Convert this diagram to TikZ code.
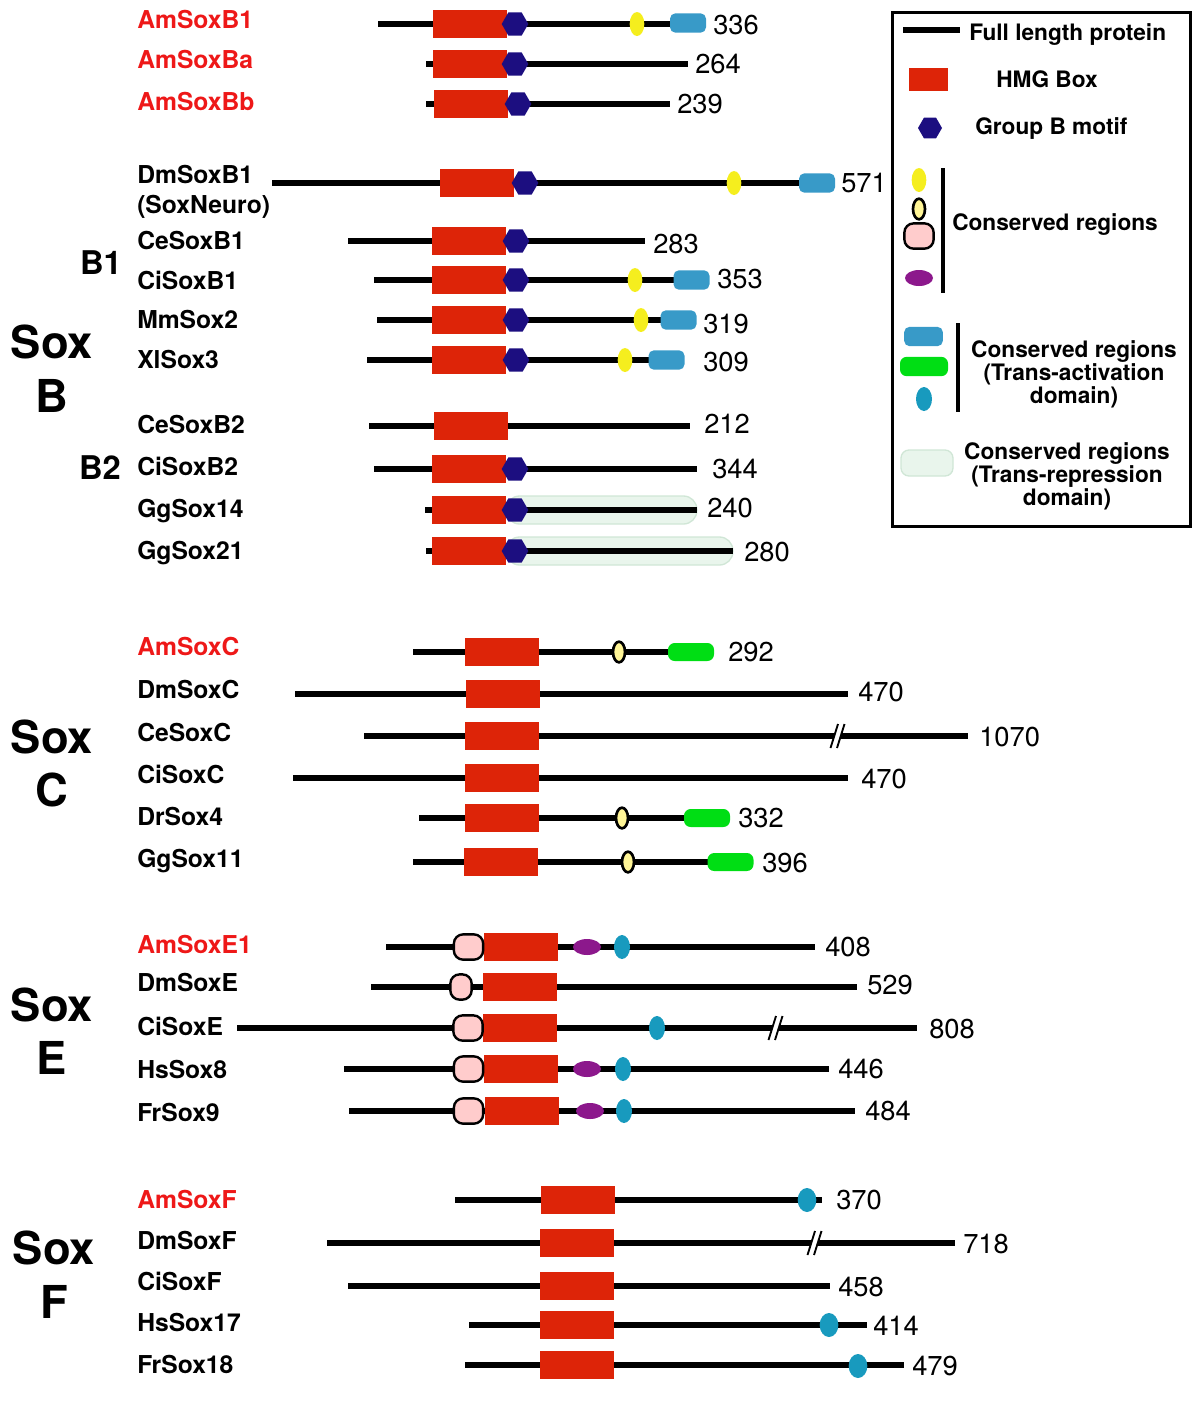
\documentclass[tikz,border=0pt]{standalone}
\usepackage{fontspec}
\setmainfont{TeX Gyre Heros}
\usetikzlibrary{shapes.geometric}
\definecolor{hmgred}{RGB}{221,36,8}
\definecolor{amred}{RGB}{238,24,24}
\definecolor{motifblue}{RGB}{28,14,128}
\definecolor{consyellow}{RGB}{245,238,30}
\definecolor{conspale}{RGB}{255,245,150}
\definecolor{conspink}{RGB}{255,204,204}
\definecolor{conspurple}{RGB}{140,24,140}
\definecolor{tablue}{RGB}{56,154,200}
\definecolor{tagreen}{RGB}{0,222,20}
\definecolor{tateal}{RGB}{24,154,190}
\definecolor{trfill}{RGB}{233,245,236}
\definecolor{trdraw}{RGB}{208,230,214}
\tikzset{
  cut/.pic={
    \fill[white] (-4,4) -- (-1.4,-4) -- (5,-4) -- (2.4,4) -- cycle;
    \draw[line width=1.4pt] (-6.5,12) -- (1,-12) (0,12) -- (7.5,-12);
  }
}
\begin{document}
\begin{tikzpicture}[x=0.75pt,y=-0.75pt,
  protein/.style={line width=4.5pt},
  hmg/.style={rectangle,fill=hmgred,minimum width=55.5pt,minimum height=21pt,inner sep=0pt},
  motif/.style={regular polygon,regular polygon sides=6,fill=motifblue,minimum size=20pt,inner sep=0pt},
  consy/.style={ellipse,fill=consyellow,minimum width=11pt,minimum height=18pt,inner sep=0pt},
  conso/.style={ellipse,fill=conspale,draw,line width=2pt,minimum width=9pt,minimum height=15.5pt,inner sep=0pt},
  consp/.style={rectangle,rounded corners=7pt,fill=conspink,draw,line width=1.8pt,minimum width=22pt,minimum height=19pt,inner sep=0pt},
  consv/.style={ellipse,fill=conspurple,minimum width=21pt,minimum height=12pt,inner sep=0pt},
  tab/.style={rectangle,rounded corners=4pt,fill=tablue,minimum width=27pt,minimum height=14.5pt,inner sep=0pt},
  tag/.style={rectangle,rounded corners=5pt,fill=tagreen,minimum width=34.5pt,minimum height=13.5pt,inner sep=0pt},
  tat/.style={ellipse,fill=tateal,minimum width=12pt,minimum height=18pt,inner sep=0pt},
  trep/.style={rectangle,rounded corners=10pt,fill=trfill,draw=trdraw,line width=1pt,minimum height=21pt,inner sep=0pt},
  protname/.style={anchor=west,inner sep=0pt,text height=13.3pt,text depth=0pt,font=\fontsize{18.5}{20}\selectfont\bfseries},
  protlen/.style={anchor=west,inner sep=0pt,text height=14.4pt,text depth=0pt,font=\fontsize{20.5}{22}\selectfont},
  family/.style={font=\fontsize{34}{36}\selectfont\bfseries},
  subfamily/.style={font=\fontsize{24.5}{26}\selectfont\bfseries},
  keytext/.style={font=\fontsize{17}{15.8}\selectfont\bfseries,align=center,inner sep=0pt}]
\useasboundingbox (0,0) rectangle (1200,1411);

% trans-repression regions lie under the lines
\node[trep,minimum width=143pt] (tr-GgSox14) at (601.5,510) {};
\node[trep,minimum width=170pt] (tr-GgSox21) at (619.5,551) {};

% lines, HMG boxes, names and lengths
\foreach \y/\name/\col/\xa/\xb/\hc/\len/\lx/\ly/\ny in {
  24/AmSoxB1/amred/378/670/469.5/336/713/20/25,
  64/AmSoxBa/amred/426/688/469.5/264/695/60/64,
  104/AmSoxBb/amred/426/670/470.5/239/677/102/104,
  183/DmSoxB1/black/272/800/477/571/841/175/183,
  241/CeSoxB1/black/348/645/468.5/283/653/241/244,
  280/CiSoxB1/black/374/675/469/353/717/281/279,
  320/MmSox2/black/377/662/469/319/703/320/324,
  360/XlSox3/black/367/650/469/309/703/360/362,
  426/CeSoxB2/black/369/690/470.5/212/704/425/424,
  469/CiSoxB2/black/374/697/469/344/712/467/469,
  510/GgSox14/black/425/697/469/240/707/509/508,
  551/GgSox21/black/426/733/469/280/744/551/552,
  652/AmSoxC/amred/413/713/501.5/292/728/647/652,
  694/DmSoxC/black/295/848/502.5/470/858/690/692,
  736/CeSoxC/black/364/968/501.5/1070/979/733/737,
  778/CiSoxC/black/293/848/501.5/470/861/775/779,
  818/DrSox4/black/419/730/501.5/332/738/817/818,
  862/GgSox11/black/413/752/501/396/762/859/863,
  947/AmSoxE1/amred/386/815/521/408/825/945/947,
  987/DmSoxE/black/371/857/520/529/867/983/985,
  1028/CiSoxE/black/237/917/520/808/929/1027/1029,
  1069/HsSox8/black/344/829/520.5/446/838/1070/1069,
  1111/FrSox9/black/349/855/521.5/484/865/1113/1111,
  1200/AmSoxF/amred/455/822/577.5/370/836/1200/1200,
  1243/DmSoxF/black/327/955/577/718/963/1241/1244,
  1286/CiSoxF/black/348/830/577/458/838/1282/1287,
  1325/HsSox17/black/469/867/576.5/414/873/1323/1326,
  1365/FrSox18/black/465/904/577/479/912/1365/1366}{
  \draw[protein] (\xa,\y) coordinate (n-\name) -- (\xb,\y) coordinate (c-\name);
  \node[hmg] (hmg-\name) at (\hc,\y) {};
  \node[protname,text=\col] (name-\name) at (137,\ly) {\name};
  \node[protlen] (len-\name) at (\lx,\ny) {\len};
}
\node[protname] (name-SoxNeuro) at (137,205) {(SoxNeuro)};

% group B motifs
\foreach \name/\x/\y in {AmSoxB1/515/24, AmSoxBa/515/64, AmSoxBb/518/104,
  DmSoxB1/525/183, CeSoxB1/516/241, CiSoxB1/516/280, MmSox2/516/320,
  XlSox3/516/360, CiSoxB2/515/469, GgSox14/515/510, GgSox21/515/551}
  \node[motif] (mb-\name) at (\x,\y) {};

% Sox B conserved regions
\node[consy] (cy-AmSoxB1) at (637,24) {};
\node[tab] (ta-AmSoxB1) at (688,23) {};
\node[consy] (cy-DmSoxB1) at (734,183) {};
\node[tab] (ta-DmSoxB1) at (817,183) {};
\node[consy] (cy-CiSoxB1) at (635,280) {};
\node[tab] (ta-CiSoxB1) at (691.5,280) {};
\node[consy] (cy-MmSox2) at (641,320) {};
\node[tab] (ta-MmSox2) at (678.5,320) {};
\node[consy] (cy-XlSox3) at (625,360) {};
\node[tab] (ta-XlSox3) at (666.5,360) {};

% Sox C conserved regions
\node[conso] (co-AmSoxC) at (619,652) {};
\node[tag] (ta-AmSoxC) at (691,652) {};
\node[conso] (co-DrSox4) at (622,818) {};
\node[tag] (ta-DrSox4) at (707,818) {};
\node[conso] (co-GgSox11) at (628,862) {};
\node[tag] (ta-GgSox11) at (730.5,862) {};

% Sox E conserved regions
\node[consp] (cp-AmSoxE1) at (468.5,947) {};
\node[consv] (cv-AmSoxE1) at (587,947) {};
\node[tat] (ta-AmSoxE1) at (622,947) {};
\node[consp,minimum width=16pt] (cp-DmSoxE) at (461,987) {};
\node[consp] (cp-CiSoxE) at (468,1028) {};
\node[tat] (ta-CiSoxE) at (657,1028) {};
\node[consp] (cp-HsSox8) at (468.5,1069) {};
\node[consv] (cv-HsSox8) at (587,1069) {};
\node[tat] (ta-HsSox8) at (623,1069) {};
\node[consp] (cp-FrSox9) at (468.5,1111) {};
\node[consv] (cv-FrSox9) at (590,1111) {};
\node[tat] (ta-FrSox9) at (624,1111) {};

% Sox F conserved regions
\node[tat,minimum width=14pt] (ta-AmSoxF) at (807,1200) {};
\node[tat,minimum width=14pt] (ta-HsSox17) at (829,1325) {};
\node[tat,minimum width=14pt] (ta-FrSox18) at (858,1366) {};

% breaks in the long lines
\pic at (837,736) {cut};
\pic at (775,1028) {cut};
\pic at (814,1243) {cut};

% family labels
\node[family] (sox-b) at (52,342) {Sox};
\node[family] (let-b) at (52,396) {B};
\node[subfamily] (sub-b1) at (101,263) {B1};
\node[subfamily] (sub-b2) at (100,468) {B2};
\node[family] (sox-c) at (52,737) {Sox};
\node[family] (let-c) at (52,790) {C};
\node[family] (sox-e) at (52,1005) {Sox};
\node[family] (let-e) at (52,1058) {E};
\node[family] (sox-f) at (54,1248) {Sox};
\node[family] (let-f) at (54,1302) {F};

% key
\draw[line width=2.25pt] (892,12) rectangle (1190,526);
\draw[protein] (903,30) coordinate (k-a) -- (960,30) coordinate (k-b);
\node[keytext,anchor=west] (key-full) at (969,35) {Full length protein};
\node[hmg,minimum width=29.25pt,minimum height=17.25pt] (key-hmg) at (928.5,79.5) {};
\node[keytext] (key-hmgtext) at (1047,79) {HMG Box};
\node[motif,minimum size=18pt] (key-motif) at (930,128) {};
\node[keytext,anchor=west] (key-motiftext) at (975,129) {Group B motif};
\node[consy] (key-cy) at (919,180) {};
\node[conso] (key-co) at (919,209) {};
\node[consp] (key-cp) at (919,236) {};
\node[consv] (key-cv) at (919,278) {};
\draw[line width=3pt] (943,168) -- (943,293);
\node[keytext,anchor=west] (key-cons) at (952,225) {Conserved regions};
\node[tab,minimum width=29pt] (key-tab) at (923.5,336.5) {};
\node[tag,minimum width=36pt,minimum height=14.5pt] (key-tag) at (924,366.5) {};
\node[tat] (key-tat) at (924,399) {};
\draw[line width=3pt] (958,323) -- (958,412);
\node[keytext] (key-act) at (1074,374) {Conserved regions\\(Trans-activation\\domain)};
\node[trep,minimum width=39pt,minimum height=19.5pt,rounded corners=6pt] (key-trep) at (927,463) {};
\node[keytext] (key-rep) at (1067,476) {Conserved regions\\(Trans-repression\\domain)};
\end{tikzpicture}
\end{document}
